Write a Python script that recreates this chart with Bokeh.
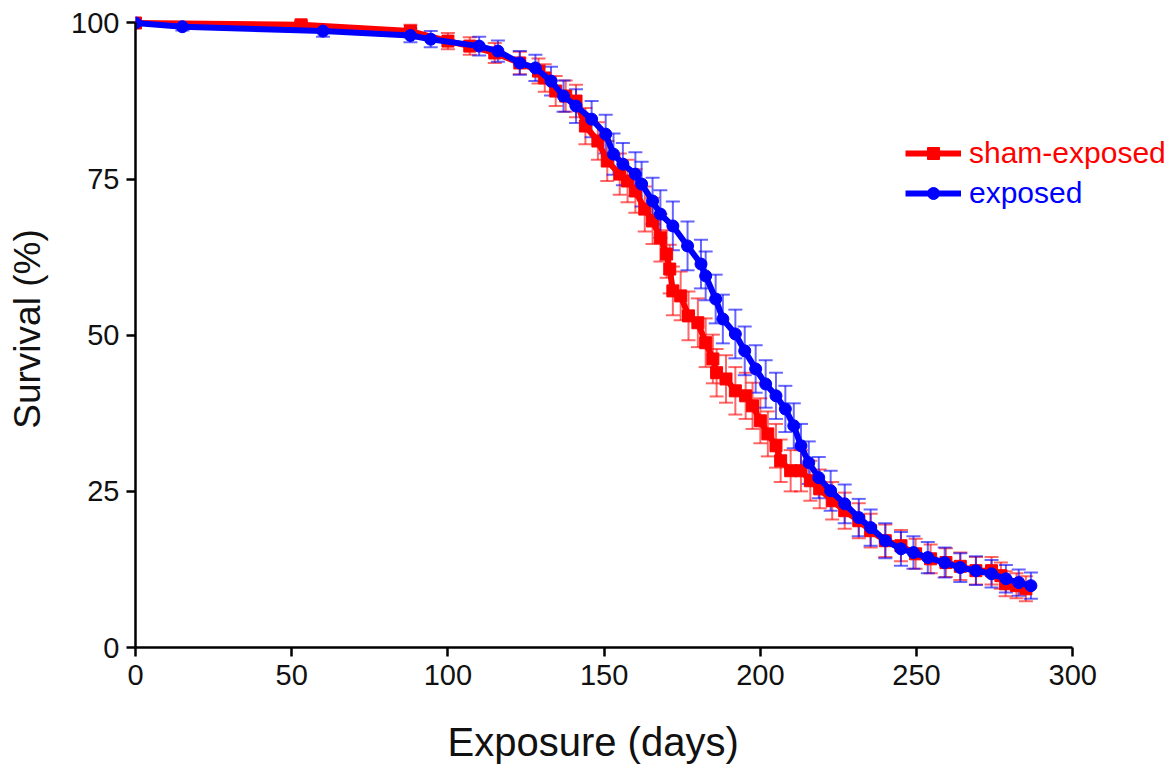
from bokeh.plotting import figure
from bokeh.models import (ColumnDataSource, Whisker, TeeHead, Legend, LegendItem,
                          Range1d, FixedTicker, Title)
from bokeh.embed import file_html
from bokeh.resources import INLINE

# ---------------- data ----------------
sham_days = [0, 53, 88, 100, 107, 115, 123, 129, 131, 134.5, 137.7, 141, 144, 148,
             151, 155, 157.5, 160, 163, 165.5, 168, 170, 171, 172, 174.5, 177, 180,
             182.5, 184.8, 186, 189, 192, 195.3, 197.5, 200, 202.4, 205, 206.5,
             209.7, 213, 216, 219, 223, 227, 231.5, 235.3, 240, 245, 249.7, 254.5,
             259.4, 264, 269, 274, 277, 278.5, 282, 285]
sham_surv = [100, 99.7, 98.7, 97.1, 96.3, 95.2, 93.6, 92.3, 91.2, 89.1, 88.3, 87.5,
             83.5, 81.1, 77.9, 75.8, 74.7, 73.1, 70.2, 68.3, 65.6, 63.0, 60.6, 57.1,
             56.3, 53.1, 52.0, 48.8, 46.2, 44.0, 43.0, 41.1, 40.3, 38.7, 36.3, 34.2,
             32.3, 29.9, 28.3, 28.3, 26.7, 25.4, 23.5, 21.9, 20.3, 18.7, 17.1, 16.3,
             15.0, 14.2, 13.6, 13.0, 12.3, 12.3, 11.5, 10.2, 9.9, 9.4]
sham_err = [0, 0.6, 1.0, 1.3, 1.4, 1.6, 1.8, 2.0, 2.2, 2.4, 2.5, 2.6, 2.9, 3.0,
            3.2, 3.3, 3.4, 3.5, 3.6, 3.7, 3.8, 3.8, 3.9, 3.9, 3.9, 3.9, 3.9, 3.9,
            3.9, 3.8, 3.8, 3.8, 3.7, 3.7, 3.6, 3.6, 3.5, 3.4, 3.3, 3.3, 3.2, 3.1,
            3.0, 2.9, 2.8, 2.7, 2.6, 2.5, 2.4, 2.3, 2.3, 2.2, 2.2, 2.2, 2.1, 2.0,
            2.0, 2.0]

exp_days = [0, 15, 60, 88, 94.5, 110, 116, 123, 128, 133, 137, 141, 146, 150.5,
            153, 156, 160, 162, 165.5, 168, 172, 176.7, 181, 182.5, 185.7, 188,
            192, 195, 198.5, 201.7, 205, 208, 210.7, 213, 215.5, 218.7, 222.5, 227,
            231.5, 235.3, 240, 245, 249, 253.6, 259, 264, 269, 274, 278.6, 282.7,
            286.6]
exp_surv = [100, 99.4, 98.7, 98.0, 97.4, 96.3, 95.5, 93.6, 92.8, 90.7, 88.3, 86.7,
            84.6, 82.2, 79.0, 77.4, 75.8, 74.2, 71.5, 69.4, 67.5, 64.3, 61.4, 59.5,
            55.8, 52.6, 50.2, 47.5, 44.6, 42.2, 40.3, 38.2, 35.5, 32.3, 29.6, 27.2,
            25.1, 23.0, 20.8, 19.2, 17.1, 15.8, 15.2, 14.4, 13.6, 12.8, 12.3, 11.8,
            11.0, 10.4, 9.9]
exp_err = [0, 0.6, 0.9, 1.1, 1.3, 1.5, 1.7, 1.9, 2.1, 2.3, 2.5, 2.7, 2.9, 3.1,
           3.3, 3.4, 3.5, 3.6, 3.7, 3.8, 3.9, 3.9, 3.9, 3.9, 3.9, 3.9, 3.9, 3.9,
           3.8, 3.8, 3.7, 3.7, 3.6, 3.5, 3.4, 3.3, 3.2, 3.1, 3.0, 2.9, 2.8, 2.7,
           2.6, 2.5, 2.4, 2.3, 2.3, 2.2, 2.2, 2.1, 2.1]

x_ticks = [0, 50, 100, 150, 200, 250, 300]
y_ticks = [0, 25, 50, 75, 100]
x_label = "Exposure (days)"
y_label = "Survival (%)"

RED = "#ff0000"
BLUE = "#0000ff"
FONT = "Liberation Sans"

p = figure(frame_width=1031, frame_height=637,
           min_border_left=135, min_border_top=10, min_border_right=2,
           min_border_bottom=118,
           x_range=Range1d(0, 330), y_range=Range1d(0, 102),
           output_backend="svg", toolbar_location=None)

p.grid.visible = False
p.outline_line_color = None
p.background_fill_color = "white"

for ax in (p.xaxis[0], p.yaxis[0]):
    ax.axis_line_width = 2.5
    ax.axis_line_color = "black"
    ax.major_tick_line_width = 2.5
    ax.major_tick_line_color = "black"
    ax.major_tick_out = 9
    ax.major_tick_in = 0
    ax.minor_tick_line_color = None
    ax.major_label_text_font = FONT
    ax.major_label_text_font_size = "29px"
    ax.major_label_text_color = "#111111"
    ax.axis_label_text_font = FONT
    ax.axis_label_text_font_size = "37px"
    ax.axis_label_text_font_style = "normal"
    ax.axis_label_text_color = "#111111"

p.xaxis.bounds = (0, 300)
p.yaxis.bounds = (0, 100)
p.xaxis.ticker = FixedTicker(ticks=x_ticks)
p.yaxis.ticker = FixedTicker(ticks=y_ticks)
p.yaxis.axis_label = y_label
p.xaxis.major_label_standoff = 8
p.yaxis.major_label_standoff = 7
p.yaxis.axis_label_standoff = 20

# x-axis label as a title below, shifted to sit centred under 0..300
p.add_layout(Title(text=x_label, align="left", offset=312,
                   text_font=FONT, text_font_size="40px",
                   text_font_style="normal", text_color="#111111",
                   standoff=60), "below")


def add_series(days, surv, err, color, marker):
    src = ColumnDataSource(dict(x=days, y=surv,
                                lo=[s - e for s, e in zip(surv, err)],
                                hi=[s + e for s, e in zip(surv, err)]))
    w = Whisker(source=src, base="x", lower="lo", upper="hi",
                line_color=color, line_alpha=0.6, line_width=2,
                upper_head=TeeHead(size=14, line_color=color, line_alpha=0.6, line_width=2),
                lower_head=TeeHead(size=14, line_color=color, line_alpha=0.6, line_width=2))
    p.add_layout(w)
    lr = p.line("x", "y", source=src, line_color=color, line_width=6)
    mr = p.scatter("x", "y", source=src, marker=marker, size=12,
                   fill_color=color, line_color=color)
    return lr, mr


sl, sm = add_series(sham_days, sham_surv, sham_err, RED, "square")
el, em = add_series(exp_days, exp_surv, exp_err, BLUE, "circle")


def make_legend(label, rends, color, loc):
    lg = Legend(items=[LegendItem(label=label, renderers=rends)],
                location=loc, label_text_color=color,
                label_text_font=FONT, label_text_font_size="30px",
                glyph_width=56, glyph_height=30, label_height=30,
                padding=0, margin=0, spacing=0, label_standoff=8,
                border_line_color=None, background_fill_alpha=0)
    p.add_layout(lg)


make_legend("sham-exposed", [sl, sm], RED, (770, 477))
make_legend("exposed", [el, em], BLUE, (770, 437))

open("out.html", "w").write(file_html(p, INLINE))
